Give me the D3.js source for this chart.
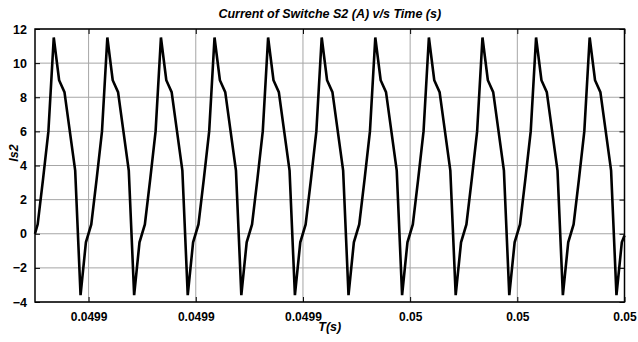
<!DOCTYPE html>
<html>
<head>
<meta charset="utf-8">
<script src="https://cdn.jsdelivr.net/npm/d3@7"></script>
<style>
body{margin:0;background:#fff;}
svg{display:block;font-family:"Liberation Sans",Arial,sans-serif;}
.title,.label{font-weight:bold;font-style:italic;}
.tick text{font-weight:bold;}
</style>
</head>
<body>
<svg id="graph1"></svg>
<script>
// time of each sample in microseconds
var timeUs = [49890,
 49890.5,49891.5,49892.5,49893.5,49894.5,49895.5,49896.5,49897.5,49898.5,49899.5,
 49900.5,49901.5,49902.5,49903.5,49904.5,49905.5,49906.5,49907.5,49908.5,49909.5,
 49910.5,49911.5,49912.5,49913.5,49914.5,49915.5,49916.5,49917.5,49918.5,49919.5,
 49920.5,49921.5,49922.5,49923.5,49924.5,49925.5,49926.5,49927.5,49928.5,49929.5,
 49930.5,49931.5,49932.5,49933.5,49934.5,49935.5,49936.5,49937.5,49938.5,49939.5,
 49940.5,49941.5,49942.5,49943.5,49944.5,49945.5,49946.5,49947.5,49948.5,49949.5,
 49950.5,49951.5,49952.5,49953.5,49954.5,49955.5,49956.5,49957.5,49958.5,49959.5,
 49960.5,49961.5,49962.5,49963.5,49964.5,49965.5,49966.5,49967.5,49968.5,49969.5,
 49970.5,49971.5,49972.5,49973.5,49974.5,49975.5,49976.5,49977.5,49978.5,49979.5,
 49980.5,49981.5,49982.5,49983.5,49984.5,49985.5,49986.5,49987.5,49988.5,49989.5,
 49990.5,49991.5,49992.5,49993.5,49994.5,49995.5,49996.5,49997.5,49998.5,49999.5,
 50000];

// switch current Is2 (A)
var currentA = [0.0,
 0.55,3.2,6.0,11.5,9.0,8.3,6.0,3.7,-3.6,-0.5,
 0.55,3.2,6.0,11.5,9.0,8.3,6.0,3.7,-3.6,-0.5,
 0.55,3.2,6.0,11.5,9.0,8.3,6.0,3.7,-3.6,-0.5,
 0.55,3.2,6.0,11.5,9.0,8.3,6.0,3.7,-3.6,-0.5,
 0.55,3.2,6.0,11.5,9.0,8.3,6.0,3.7,-3.6,-0.5,
 0.55,3.2,6.0,11.5,9.0,8.3,6.0,3.7,-3.6,-0.5,
 0.55,3.2,6.0,11.5,9.0,8.3,6.0,3.7,-3.6,-0.5,
 0.55,3.2,6.0,11.5,9.0,8.3,6.0,3.7,-3.6,-0.5,
 0.55,3.2,6.0,11.5,9.0,8.3,6.0,3.7,-3.6,-0.5,
 0.55,3.2,6.0,11.5,9.0,8.3,6.0,3.7,-3.6,-0.5,
 0.55,3.2,6.0,11.5,9.0,8.3,6.0,3.7,-3.6,-0.5,
 -0.1];

var xTicks = [49900,49920,49940,49960,49980,50000];
var xTickLabels = ["0.0499","0.0499","0.0499","0.05","0.05","0.05"];
var yTicks = [-4,-2,0,2,4,6,8,10,12];

var drawChart = function(target)
{
    var screen = {width:638, height:342};
    var margins = {top:29, bottom:40, left:35, right:13.5};
    var graph =
    {
        width:screen.width-margins.left-margins.right,
        height:screen.height-margins.top-margins.bottom
    };

    var svg = d3.select(target)
        .attr("width",screen.width)
        .attr("height",screen.height);

    var xScale = d3.scaleLinear()
        .domain([49890,50000])
        .range([0,graph.width]);

    var yScale = d3.scaleLinear()
        .domain([-4,12])
        .range([graph.height,0]);

    var g = svg.append("g")
        .attr("transform","translate("+margins.left+","+margins.top+")");

    //grid
    g.append("g").selectAll("line.gx")
        .data(xTicks)
        .enter().append("line")
        .attr("x1",function(d){return xScale(d);})
        .attr("x2",function(d){return xScale(d);})
        .attr("y1",0).attr("y2",graph.height)
        .attr("stroke","#a6a6a6").attr("stroke-width",1);

    g.append("g").selectAll("line.gy")
        .data(yTicks)
        .enter().append("line")
        .attr("y1",function(d){return yScale(d);})
        .attr("y2",function(d){return yScale(d);})
        .attr("x1",0).attr("x2",graph.width)
        .attr("stroke","#a6a6a6").attr("stroke-width",1);

    //the waveform
    var points = timeUs.map(function(t,i){return [t,currentA[i]];});
    var line = d3.line()
        .x(function(d){return xScale(d[0]);})
        .y(function(d){return yScale(d[1]);});

    g.append("path")
        .datum(points)
        .attr("d",line)
        .attr("fill","none")
        .attr("stroke","#000")
        .attr("stroke-width",2.6)
        .attr("stroke-linejoin","miter");

    //axes, ticks pointing inward
    var xAxis = d3.axisBottom(xScale)
        .tickValues(xTicks)
        .tickSize(-5)
        .tickPadding(10)
        .tickFormat(function(d,i){return xTickLabels[i];});
    var yAxis = d3.axisLeft(yScale)
        .tickValues(yTicks)
        .tickSize(-5)
        .tickPadding(8);

    var gx = g.append("g")
        .attr("transform","translate(0,"+graph.height+")")
        .call(xAxis);
    var gy = g.append("g").call(yAxis);

    g.append("g").call(d3.axisTop(xScale).tickValues(xTicks).tickSize(-5).tickFormat(""));
    g.append("g").attr("transform","translate("+graph.width+",0)")
        .call(d3.axisRight(yScale).tickValues(yTicks).tickSize(-5).tickFormat(""));

    g.selectAll(".domain").remove();
    g.selectAll(".tick line").attr("stroke","#000");
    gx.selectAll("text").attr("font-size",12).attr("fill","#000");
    gy.selectAll("text").attr("font-size",12.5).attr("fill","#000");

    g.append("rect")
        .attr("width",graph.width).attr("height",graph.height)
        .attr("fill","none").attr("stroke","#000").attr("stroke-width",1.5);

    //labels
    svg.append("text")
        .classed("title",true)
        .text("Current of Switche S2 (A) v/s Time (s)")
        .attr("text-anchor","middle")
        .attr("font-size",12.5)
        .attr("x",margins.left+graph.width/2)
        .attr("y",18);

    svg.append("text")
        .classed("label",true)
        .text("T(s)")
        .attr("text-anchor","middle")
        .attr("font-size",12.5)
        .attr("x",margins.left+graph.width/2)
        .attr("y",331);

    svg.append("g")
        .attr("transform","translate(18,153)")
        .append("text")
        .classed("label",true)
        .text("Is2")
        .attr("text-anchor","middle")
        .attr("font-size",12.5)
        .attr("transform","rotate(-90)");
};

drawChart("#graph1");
</script>
</body>
</html>
